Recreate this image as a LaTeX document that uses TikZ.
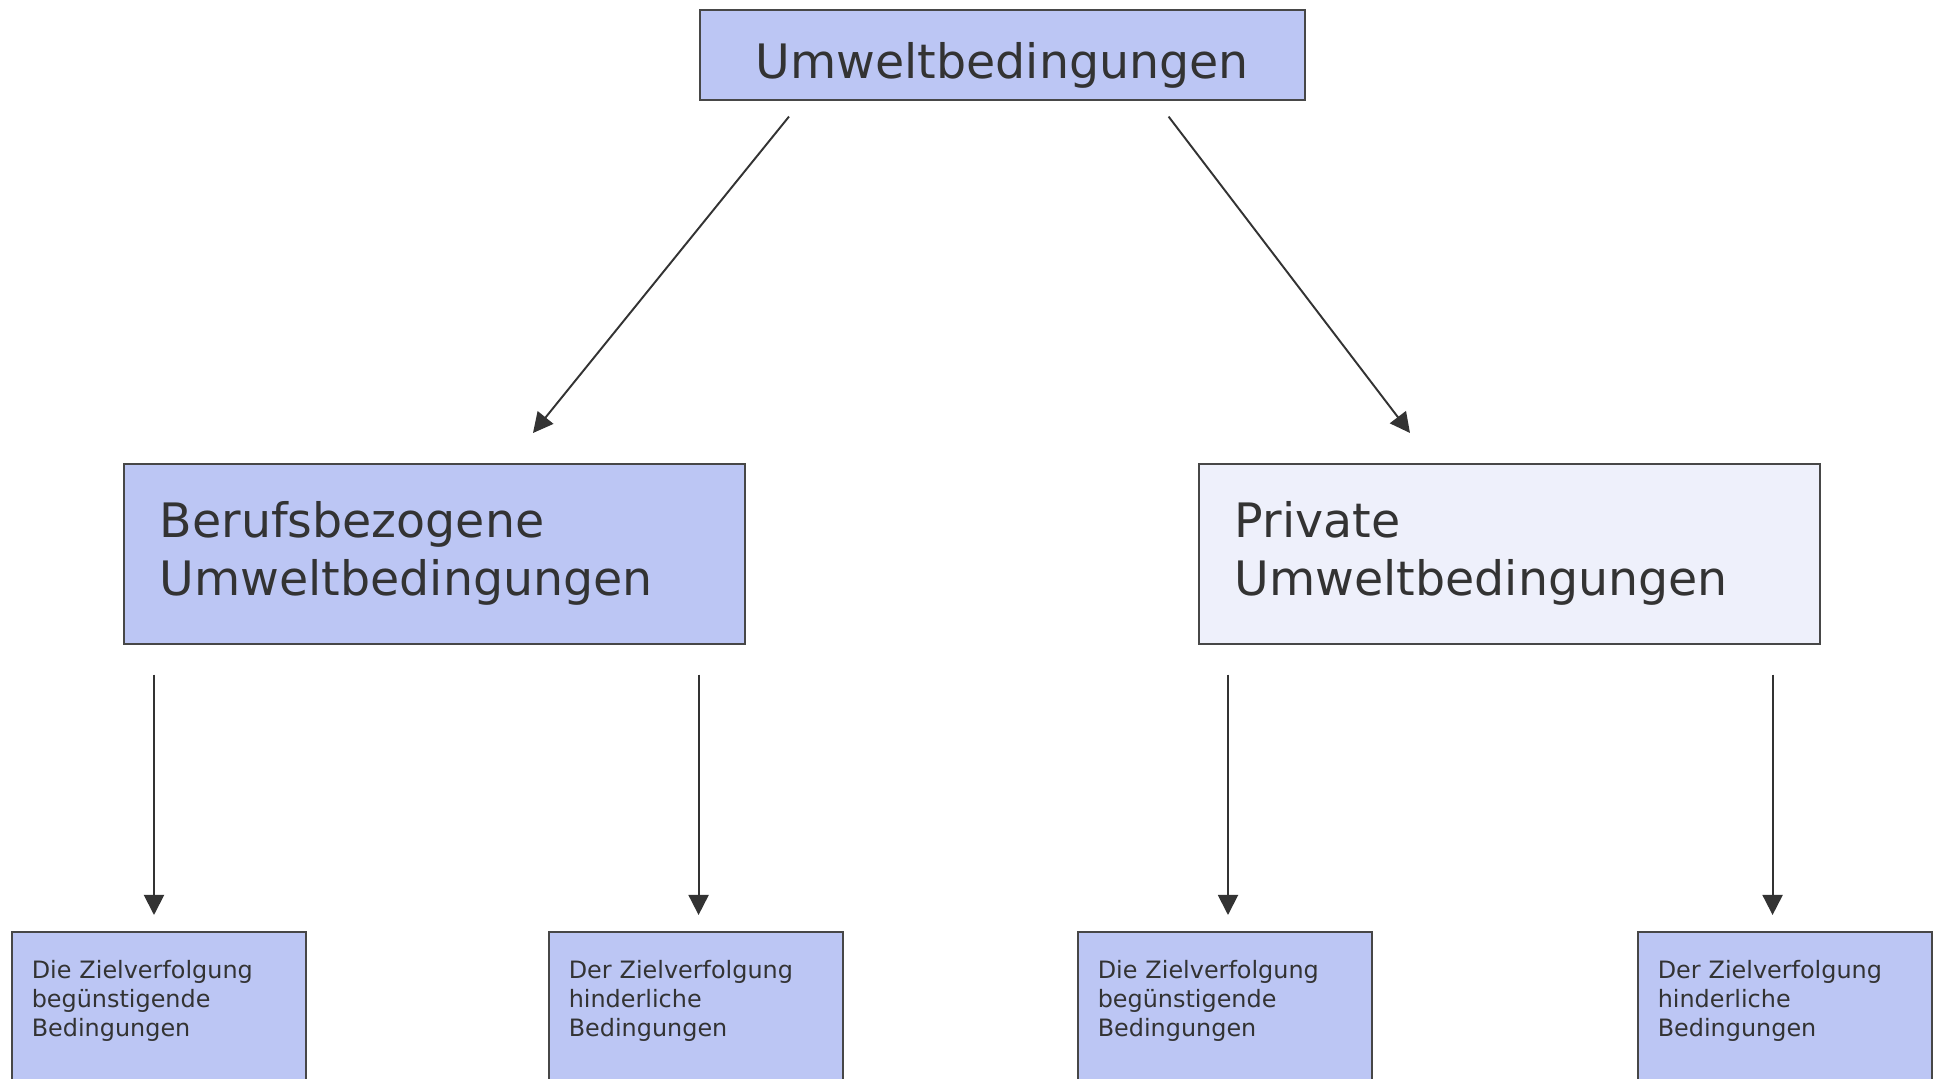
\documentclass[tikz,border=0pt]{standalone}
\usepackage{fontspec}
\setmainfont{DejaVu Sans}
\usetikzlibrary{arrows.meta}

\definecolor{boxblue}{HTML}{BCC6F4}
\definecolor{boxpale}{HTML}{EEF0FB}
\definecolor{ink}{HTML}{333333}

\tikzset{
  box/.style={draw=ink!90,line width=0.45pt,fill=boxblue,text=ink,anchor=north west,inner sep=0pt},
  bigbox/.style={box,minimum width=62.1mm,minimum height=18mm,align=left,text width=54.9mm,font=\fontsize{13.5}{16.5}\selectfont},
  smallbox/.style={box,minimum width=29.4mm,minimum height=17mm,align=left,text width=25.4mm,text height=2.9mm,text depth=10.6mm,font=\fontsize{6.8}{8.25}\selectfont},
  arr/.style={draw=ink,line width=0.55pt,-{Triangle[length=2mm,width=2mm]}}
}

\begin{document}
\begin{tikzpicture}[x=0.1mm,y=-0.1mm]
\useasboundingbox (0,0) rectangle (1934,1079);

% top
\node[box,minimum width=60.5mm,minimum height=9mm,text height=5.8mm,text depth=1.1mm,font=\fontsize{13.5}{16.5}\selectfont] (umwelt) at (699,9) {Umweltbedingungen};

% second row
\node[bigbox] (berufs) at (123,463) {Berufsbezogene\\Umweltbedingungen};
\node[bigbox,fill=boxpale] (privat) at (1198,463) {Private\\Umweltbedingungen};

% bottom row
\node[smallbox] (bg1) at (11,931) {Die Zielverfolgung\\beg\"unstigende\\Bedingungen};
\node[smallbox] (bh1) at (548,931) {Der Zielverfolgung\\hinderliche\\Bedingungen};
\node[smallbox] (bg2) at (1077,931) {Die Zielverfolgung\\beg\"unstigende\\Bedingungen};
\node[smallbox] (bh2) at (1637,931) {Der Zielverfolgung\\hinderliche\\Bedingungen};

\draw[arr] ([xshift=9mm,yshift=-1.6mm]umwelt.south west) -- ([xshift=41mm,yshift=3mm]berufs.north west);
\draw[arr] ([xshift=-13.7mm,yshift=-1.6mm]umwelt.south east) -- ([xshift=21.2mm,yshift=3mm]privat.north west);

\draw[arr] ([xshift=3.1mm,yshift=-3mm]berufs.south west) coordinate (a1) -- ([yshift=1.6mm]a1 |- bg1.north);
\draw[arr] ([xshift=-4.7mm,yshift=-3mm]berufs.south east) coordinate (a2) -- ([yshift=1.6mm]a2 |- bh1.north);
\draw[arr] ([xshift=3mm,yshift=-3mm]privat.south west) coordinate (a3) -- ([yshift=1.6mm]a3 |- bg2.north);
\draw[arr] ([xshift=-4.8mm,yshift=-3mm]privat.south east) coordinate (a4) -- ([yshift=1.6mm]a4 |- bh2.north);
\end{tikzpicture}
\end{document}
